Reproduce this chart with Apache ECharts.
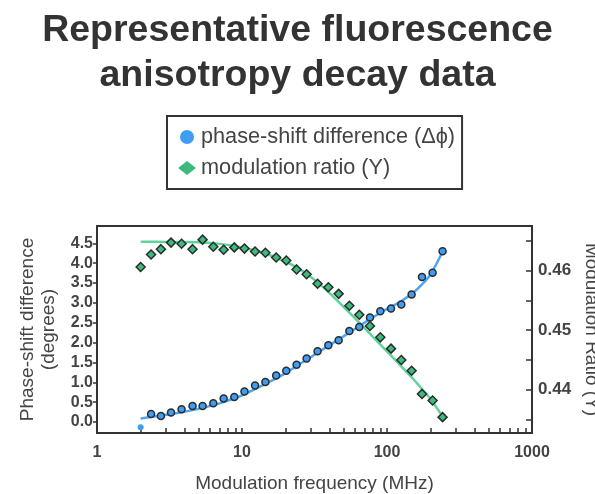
<!DOCTYPE html>
<html>
<head>
<meta charset="utf-8">
<script src="https://cdn.jsdelivr.net/npm/echarts@6/dist/echarts.min.js"></script>
<style>
  html, body { margin: 0; padding: 0; background: #fff; }
  #chart { width: 595px; height: 494px; }
</style>
</head>
<body>
<div id="chart"></div>
<script>
// measured points (MHz)
const freq = [2.0, 2.36, 2.76, 3.24, 3.83, 4.56, 5.35, 6.34, 7.47, 8.85, 10.4, 12.3, 14.5, 17.2, 20.2,
              23.8, 27.9, 33.2, 39.4, 46.4, 55.0, 64.4, 76.3, 89.9, 106.6, 125.5, 147.8, 174.3, 206.3, 241.7];
const phaseShift = [-0.13, 0.20, 0.15, 0.24, 0.32, 0.40, 0.40, 0.47, 0.59, 0.63, 0.77, 0.92, 1.01, 1.17, 1.29,
                    1.44, 1.60, 1.78, 1.93, 2.06, 2.29, 2.39, 2.63, 2.79, 2.86, 2.96, 3.21, 3.65, 3.76, 4.30];
const modRatio = [0.4606, 0.4627, 0.4636, 0.4647, 0.4645, 0.4636, 0.4652, 0.4640, 0.4635, 0.4639, 0.4637, 0.4632,
                  0.4630, 0.4622, 0.4617, 0.4602, 0.4594, 0.4578, 0.4572, 0.4561, 0.4541, 0.4526, 0.4507, 0.4488,
                  0.4469, 0.4450, 0.4432, 0.4393, 0.4382, 0.4354];

// fitted curves
const fitFreq = [2, 3, 4, 5, 7, 10, 14, 20, 24, 28, 33, 40, 55, 64, 75, 90, 110, 125, 150, 175, 200, 245];
const phaseFit = [0.09, 0.18, 0.26, 0.33, 0.47, 0.67, 0.93, 1.23, 1.42, 1.57, 1.74, 1.93, 2.25, 2.41, 2.57,
                  2.75, 2.93, 3.04, 3.24, 3.47, 3.72, 4.33];
const modFit = [0.46484, 0.46482, 0.46481, 0.46476, 0.46449, 0.46389, 0.46300, 0.46149, 0.46050, 0.45943,
                0.45807, 0.45626, 0.45296, 0.45134, 0.44961, 0.44759, 0.44538, 0.44397, 0.44193, 0.44008,
                0.43841, 0.43531];

// ticks
const xTicks = [2, 3, 4, 5, 6, 7, 8, 9, 10, 20, 30, 40, 50, 60, 70, 80, 90, 100, 200, 300, 400, 500, 600, 700, 800, 900];
const leftTicks = [0, 0.5, 1, 1.5, 2, 2.5, 3, 3.5, 4, 4.5];
const rightTicks = [0.435, 0.44, 0.445, 0.45, 0.455, 0.46, 0.465];
const rightLabels = [0.44, 0.45, 0.46];

const font = 'Liberation Sans, Arial, sans-serif';
const dark = '#333';

const chart = echarts.init(document.getElementById('chart'));

const phasePoints = freq.map((f, i) => {
    const p = { value: [f, phaseShift[i]] };
    // first point sits below the axis, drawn without outline
    if (i === 0) {
        p.symbolSize = 6;
        p.itemStyle = { borderWidth: 0 };
    }
    return p;
});

chart.setOption({
    animation: false,
    backgroundColor: '#fff',
    textStyle: { fontFamily: font },
    title: {
        text: 'Representative fluorescence\nanisotropy decay data',
        left: 'center',
        top: 8,
        padding: 0,
        textStyle: {
            fontFamily: font,
            fontSize: 37.5,
            fontWeight: 'bold',
            color: dark,
            lineHeight: 45
        }
    },
    legend: {
        data: ['phase-shift difference (Δϕ)', 'modulation ratio (Y)'],
        orient: 'vertical',
        left: 167,
        top: 116,
        padding: [10, 7, 10, 11],
        itemGap: 9,
        itemWidth: 18,
        itemHeight: 14,
        borderColor: dark,
        borderWidth: 2,
        backgroundColor: '#fff',
        itemStyle: { borderWidth: 0 },
        textStyle: { fontSize: 21.7, color: '#444', lineHeight: 22, fontFamily: font }
    },
    grid: {
        left: 97,
        right: 63,
        top: 226,
        bottom: 61,
        show: true,
        borderColor: dark,
        borderWidth: 2,
        outerBoundsMode: 'none'
    },
    xAxis: {
        type: 'log',
        logBase: 10,
        min: 1,
        max: 1000,
        name: 'Modulation frequency (MHz)',
        nameLocation: 'middle',
        nameGap: 41,
        nameTextStyle: { fontSize: 19, color: '#444' },
        axisLine: { onZero: false, lineStyle: { color: dark, width: 2 } },
        axisTick: { inside: true, length: 5, lineStyle: { color: dark, width: 1.5 }, customValues: xTicks },
        axisLabel: {
            margin: 12,
            fontSize: 16,
            fontWeight: 'bold',
            color: '#444',
            formatter: v => String(Math.round(v))
        },
        splitLine: { show: false }
    },
    yAxis: [
        {
            type: 'value',
            min: -0.277,
            max: 4.935,
            position: 'left',
            name: 'Phase-shift difference\n(degrees)',
            nameLocation: 'middle',
            nameGap: 38,
            nameTextStyle: { fontSize: 19, color: '#444', lineHeight: 21 },
            axisLine: { show: true, onZero: false, lineStyle: { color: dark, width: 2 } },
            axisTick: { show: true, inside: false, length: 4, lineStyle: { color: dark, width: 1.5 }, customValues: leftTicks },
            axisLabel: {
                margin: 4,
                fontSize: 16,
                fontWeight: 'bold',
                color: '#444',
                customValues: leftTicks,
                formatter: v => v.toFixed(1)
            },
            splitLine: { show: false }
        },
        {
            type: 'value',
            min: 0.43274,
            max: 0.46749,
            position: 'right',
            name: 'Modulation Ratio (Y)',
            nameLocation: 'middle',
            nameRotate: -90,
            nameGap: 50,
            nameTextStyle: { fontSize: 19, color: '#444' },
            axisLine: { show: true, onZero: false, lineStyle: { color: dark, width: 2 } },
            axisTick: { show: true, inside: true, length: 6, lineStyle: { color: dark, width: 1.5 }, customValues: rightTicks },
            axisLabel: {
                margin: 6,
                fontSize: 17,
                fontWeight: 'bold',
                color: '#444',
                customValues: rightLabels,
                formatter: v => v.toFixed(2)
            },
            splitLine: { show: false }
        }
    ],
    series: [
        {
            name: 'phase fit',
            type: 'line',
            yAxisIndex: 0,
            data: fitFreq.map((f, i) => [f, phaseFit[i]]),
            smooth: 0.3,
            showSymbol: false,
            lineStyle: { color: '#4ea6f2', width: 2.5 },
            z: 2
        },
        {
            name: 'modulation fit',
            type: 'line',
            yAxisIndex: 1,
            data: fitFreq.map((f, i) => [f, modFit[i]]),
            smooth: 0.3,
            showSymbol: false,
            lineStyle: { color: '#5fd39b', width: 2.5 },
            z: 2
        },
        {
            name: 'phase-shift difference (Δϕ)',
            type: 'scatter',
            yAxisIndex: 0,
            data: phasePoints,
            symbol: 'circle',
            symbolSize: 7,
            itemStyle: { color: '#3f9ef3', borderColor: '#2b2b2b', borderWidth: 1.5, opacity: 1 },
            z: 3
        },
        {
            name: 'modulation ratio (Y)',
            type: 'scatter',
            yAxisIndex: 1,
            data: freq.map((f, i) => [f, modRatio[i]]),
            symbol: 'diamond',
            symbolSize: 9,
            itemStyle: { color: '#3dbb7c', borderColor: '#2b2b2b', borderWidth: 1.5, opacity: 1 },
            z: 3
        }
    ]
});
</script>
</body>
</html>
